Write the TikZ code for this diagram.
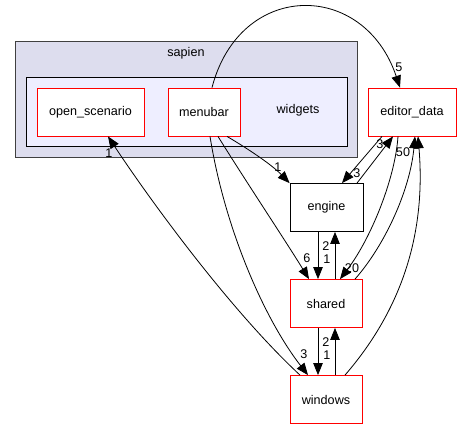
\documentclass[tikz,border=0pt]{standalone}
\usepackage{fontspec}
\setmainfont{Liberation Sans}
\usetikzlibrary{arrows.meta,calc}
\definecolor{outerfill}{HTML}{DDDDEE}
\definecolor{innerfill}{HTML}{EEEEFF}
\definecolor{outerline}{HTML}{404040}
\definecolor{redline}{HTML}{FF0000}
\begin{document}
\begin{tikzpicture}[x=1pt,y=-1pt,
  every node/.style={font=\fontsize{12.6}{15}\selectfont},
  dirbox/.style={draw=redline, fill=white, line width=0.8pt, inner sep=0pt, minimum height=48pt},
  plainbox/.style={draw=black, fill=white, line width=0.8pt, inner sep=0pt, minimum height=48pt},
  dep/.style={draw=black, line width=0.8pt, -{Triangle[length=12pt,width=9.5pt]}},
  lbl/.style={inner sep=0pt}
]
\useasboundingbox (0,0) rectangle (461,429);
\fill[white] (0,0) rectangle (461,429);
% clusters
\draw[fill=outerfill, draw=outerline, line width=0.8pt] (15,41) rectangle (357,157);
\node[lbl] (sapien) at (186,53) {sapien};
\draw[fill=innerfill, draw=black, line width=0.8pt] (26,77) rectangle (347,146);
\node[lbl] (widgets) at (298,110) {widgets};
% nodes
\node[dirbox, minimum width=107pt] (open) at (90.5,112) {open\_scenario};
\node[dirbox, minimum width=72pt] (menubar) at (204,112) {menubar};
\node[dirbox, minimum width=88pt] (editor) at (412,112) {editor\_data};
\node[plainbox, minimum width=73pt] (engine) at (326.5,207.5) {engine};
\node[dirbox, minimum width=72pt] (shared) at (326,303.5) {shared};
\node[dirbox, minimum width=72pt] (windows) at (326,399.5) {windows};
% edges
\draw[dep] ([xshift=8pt]menubar.north) .. controls (240,-20) and (364,-20) .. ([xshift=-12pt]editor.north);
\node[lbl] (l5) at (399,67) {5};
\draw[dep] ([xshift=23pt]menubar.south) .. controls (250,150) and (272,165) .. (engine.north west);
\node[lbl] (l1a) at (278,167) {1};
\draw[dep] ([xshift=14pt]menubar.south) .. controls (245,180) and (285,240) .. ([xshift=-17pt]shared.north);
\node[lbl] (l6) at (307,258) {6};
\draw[dep] ([xshift=6pt]menubar.south) .. controls (225,230) and (265,320) .. ([xshift=-18pt]windows.north);
\node[lbl] (l3a) at (304,354) {3};
\draw[dep] ([xshift=-26pt]windows.north) .. controls (230,310) and (150,200) .. ([xshift=17.5pt]open.south);
\node[lbl] (l1b) at (109,153) {1};
\draw[dep] ([xshift=-30pt]editor.south) -- ([xshift=15.5pt]engine.north);
\node[lbl] (l3b) at (380,144) {3};
\draw[dep] ([xshift=30.5pt]engine.north) -- ([xshift=-19pt]editor.south);
\node[lbl] (l3c) at (357,173) {3};
\draw[dep] ([xshift=-14pt]editor.south) .. controls (395,180) and (370,240) .. ([xshift=14pt]shared.north);
\node[lbl] (l20) at (352,268) {20};
\draw[dep] ([xshift=29pt]shared.north) .. controls (385,245) and (410,190) .. ([xshift=3pt]editor.south);
\node[lbl] (l50) at (403,152) {50};
\draw[dep] ([xshift=19pt]windows.north) .. controls (410,300) and (425,220) .. ([xshift=6pt]editor.south);
\draw[dep] ([xshift=-8.5pt]engine.south) -- ([xshift=-8pt]shared.north);
\draw[dep] ([xshift=9pt]shared.north) -- ([xshift=8.5pt]engine.south);
\node[lbl] (l2a) at (326,246) {2};
\node[lbl] (l1c) at (327,259) {1};
\draw[dep] ([xshift=-8pt]shared.south) -- ([xshift=-8pt]windows.north);
\draw[dep] ([xshift=9pt]windows.north) -- ([xshift=9pt]shared.south);
\node[lbl] (l2b) at (326,342) {2};
\node[lbl] (l1d) at (327,355) {1};
\end{tikzpicture}
\end{document}
